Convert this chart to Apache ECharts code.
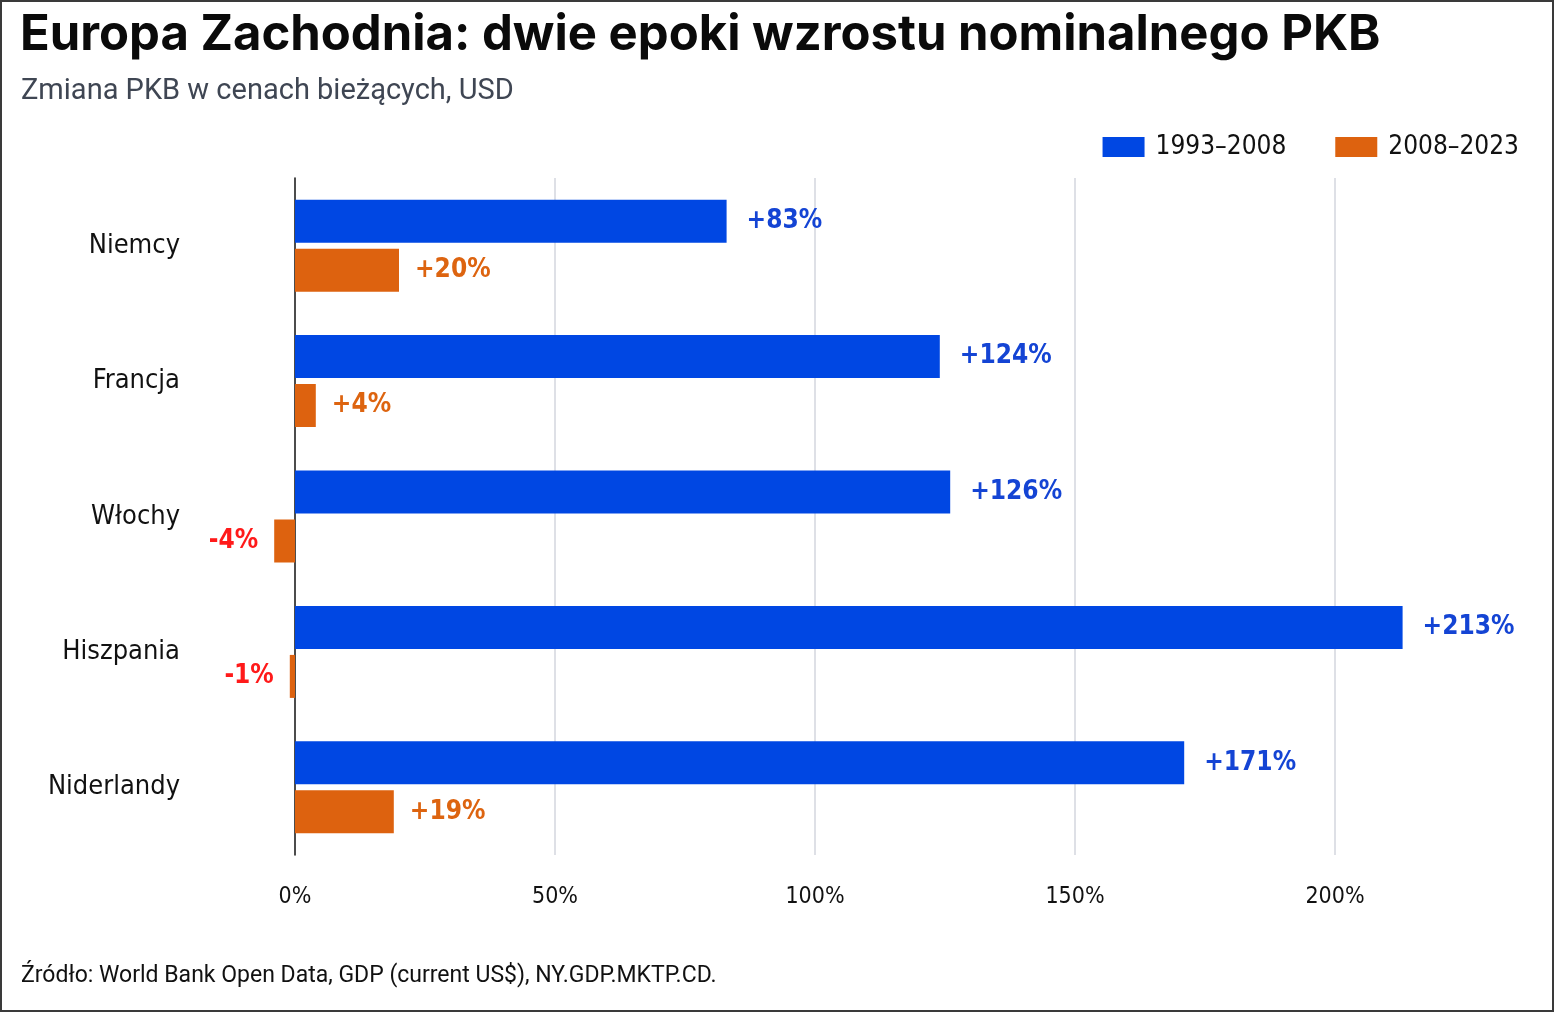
<!DOCTYPE html>
<html>
<head>
<meta charset="utf-8">
<script src="https://cdn.jsdelivr.net/npm/echarts@6/dist/echarts.min.js"></script>
<style>
  html, body { margin: 0; padding: 0; background: #fff; }
  #wrap { position: relative; width: 1554px; height: 1012px; }
  #chart { width: 1554px; height: 1012px; }
  #frame { position: absolute; left: 0; top: 0; right: 0; bottom: 0;
           border: 2px solid #3a3a3a; pointer-events: none; }
</style>
</head>
<body>
<div id="wrap">
  <div id="chart"></div>
  <div id="frame"></div>
</div>
<script>
// kraje i zmiana PKB (%)
var countries = ["Niemcy", "Francja", "Włochy", "Hiszpania", "Niderlandy"];
var period1 = [83, 124, 126, 213, 171];
var period2 = [20, 4, -4, -1, 19];
var seriesNames = ["1993–2008", "2008–2023"];
var ticks = [0, 50, 100, 150, 200];
var gridTicks = [50, 100, 150, 200];

var BLUE = "#0047e3";
var ORANGE = "#dd620f";
var RED = "#ff1a1a";
var COND = "'DejaVu Sans Condensed', 'DejaVu Sans', sans-serif";

function fmt(v) {
  return (v > 0 ? "+" : "") + v + "%";
}

function toItems(values, color) {
  return values.map(function (v) {
    var neg = v < 0;
    return {
      value: v,
      label: {
        position: neg ? "left" : "right",
        color: neg ? RED : color,
      },
    };
  });
}

var chart = echarts.init(document.getElementById("chart"));

var opt = {
  animation: false,
  backgroundColor: "#fff",
  title: [
    {
      text: "Europa Zachodnia: dwie epoki wzrostu nominalnego PKB",
      left: 15,
      top: 6,
      textStyle: { fontFamily: "Inter", fontWeight: 700, fontSize: 49, color: "#0a0a0a" },
    },
    {
      text: "Zmiana PKB w cenach bieżących, USD",
      left: 16,
      top: 72,
      textStyle: { fontFamily: "Roboto", fontWeight: 400, fontSize: 29, color: "#3f4653" },
    },
    {
      text: "Źródło: World Bank Open Data, GDP (current US$), NY.GDP.MKTP.CD.",
      left: 16,
      top: 960,
      textStyle: { fontFamily: "Roboto", fontWeight: 400, fontSize: 23, color: "#111" },
    },
  ],
  legend: {
    right: 30,
    top: 129,
    itemWidth: 42,
    itemHeight: 20,
    itemGap: 49,
    icon: "rect",
    textStyle: { fontFamily: COND, fontSize: 26, color: "#111", padding: [0, 0, 0, 6] },
    data: seriesNames,
  },
  grid: {
    left: 295,
    top: 178,
    width: 1248,
    height: 677,
    containLabel: false,
  },
  xAxis: {
    type: "value",
    min: 0,
    max: 240,
    interval: 50,
    axisLine: { show: false },
    axisTick: { show: false },
    splitLine: { show: false },
    axisLabel: {
      margin: 31,
      fontFamily: COND,
      fontSize: 23,
      color: "#111",
      showMaxLabel: false,
      formatter: function (v) {
        return ticks.indexOf(v) >= 0 ? v + "%" : "";
      },
    },
  },
  yAxis: {
    type: "category",
    inverse: true,
    data: countries,
    axisLine: { show: true, lineStyle: { color: "#111", width: 1.5 } },
    axisTick: { show: false },
    axisLabel: {
      margin: 115,
      fontFamily: COND,
      fontSize: 27,
      color: "#111",
    },
  },
  series: [
    {
      name: seriesNames[0],
      type: "bar",
      barWidth: 43,
      barGap: "14%",
      clip: false,
      z: 3,
      itemStyle: { color: BLUE },
      label: {
        show: true,
        distance: 20,
        fontFamily: COND,
        fontWeight: "bold",
        fontSize: 26,
        formatter: function (p) { return fmt(p.value); },
      },
      markLine: {
        silent: true,
        symbol: "none",
        z: 1,
        label: { show: false },
        lineStyle: { color: "#d3d6de", width: 1.5, type: "solid" },
        data: gridTicks.map(function (t) { return { xAxis: t }; }),
      },
      data: toItems(period1, "#1444d4"),
    },
    {
      name: seriesNames[1],
      type: "bar",
      barWidth: 43,
      barGap: "14%",
      clip: false,
      z: 3,
      itemStyle: { color: ORANGE },
      label: {
        show: true,
        distance: 16,
        fontFamily: COND,
        fontWeight: "bold",
        fontSize: 26,
        formatter: function (p) { return fmt(p.value); },
      },
      data: toItems(period2, "#dd6410"),
    },
  ],
};

chart.setOption(opt);
</script>
</body>
</html>
